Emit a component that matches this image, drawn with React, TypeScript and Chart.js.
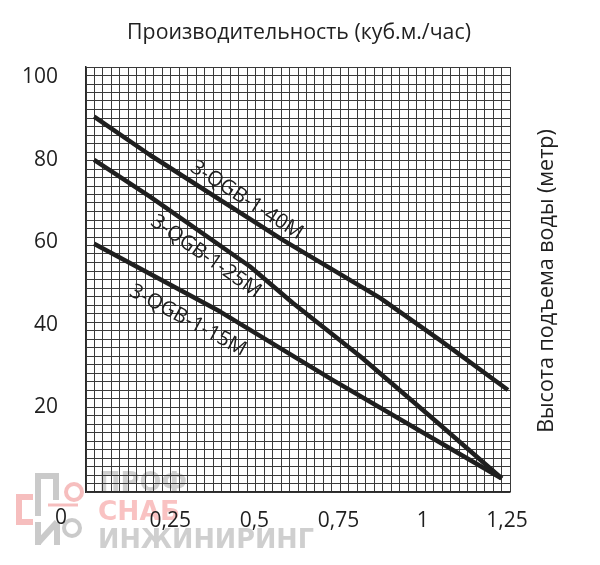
import { useEffect, useRef } from 'react';
import { Chart, registerables } from 'chart.js';

Chart.register(...registerables);

// ---- data ----
const xTicks = [0.25, 0.5, 0.75, 1, 1.25];
const yTicks = [20, 40, 60, 80, 100];
const seriesNames = ['3-QGB-1-40M', '3-QGB-1-25M', '3-QGB-1-15M'];
const flow40 = [0.024, 0.19, 0.585, 0.873, 1.051, 1.253];
const head40 = [90.4, 81.1, 60.5, 46.5, 36.3, 24.2];
const flow25 = [0.024, 0.19, 0.487, 0.615, 0.814, 1.021, 1.235];
const head25 = [79.9, 71.0, 54.1, 45.2, 32.4, 17.9, 2.8];
const flow15 = [0.024, 0.398, 0.733, 1.232];
const head15 = [59.6, 43.2, 26.6, 2.9];
const labelAnchorFlow = [0.455, 0.385, 0.335];

const titleText = 'Производительность (куб.м./час)';
const yTitleText = 'Высота подъема воды (метр)';

// ---- style ----
const FONT = '"Open Sans", "DejaVu Sans", sans-serif';
const INK = '#1f1f1f';
const labelOffsets = [-14, 17, 23];
const gridIdx = Array.from({ length: 51 }, (_, i) => i);

const toPts = (xs: number[], ys: number[]) => xs.map((x, i) => ({ x, y: ys[i] }));

const overlayPlugin = {
  id: 'overlay',
  beforeDraw(chart: any) {
    const ctx = chart.ctx as CanvasRenderingContext2D;
    ctx.save();
    // watermark logo (faint)
    ctx.lineCap = 'butt';
    ctx.lineJoin = 'miter';
    ctx.strokeStyle = 'rgba(150,150,150,0.5)';
    ctx.lineWidth = 6;
    ctx.beginPath();
    ctx.moveTo(38, 516);
    ctx.lineTo(38, 476);
    ctx.lineTo(56, 476);
    ctx.lineTo(56, 500);
    ctx.stroke();
    ctx.beginPath();
    ctx.moveTo(38, 522);
    ctx.lineTo(38, 545);
    ctx.moveTo(38, 543);
    ctx.lineTo(57, 522);
    ctx.moveTo(57, 522);
    ctx.lineTo(57, 545);
    ctx.stroke();
    ctx.beginPath();
    ctx.arc(72, 528, 8, 0, Math.PI * 2);
    ctx.lineWidth = 4;
    ctx.stroke();
    ctx.strokeStyle = 'rgba(235,110,110,0.45)';
    ctx.lineWidth = 6;
    ctx.beginPath();
    ctx.moveTo(33, 497);
    ctx.lineTo(19, 497);
    ctx.lineTo(19, 522);
    ctx.lineTo(33, 522);
    ctx.stroke();
    ctx.lineWidth = 3;
    ctx.beginPath();
    ctx.moveTo(48, 505);
    ctx.lineTo(78, 505);
    ctx.stroke();
    ctx.beginPath();
    ctx.arc(74, 492, 8, 0, Math.PI * 2);
    ctx.lineWidth = 4;
    ctx.stroke();
    ctx.textAlign = 'left';
    ctx.textBaseline = 'alphabetic';
    ctx.font = 'bold 27px "DejaVu Sans", sans-serif';
    ctx.fillStyle = 'rgba(130,130,130,0.38)';
    ctx.fillText('ПРОФ', 99, 491, 88);
    ctx.fillStyle = 'rgba(240,110,110,0.42)';
    ctx.fillText('СНАБ', 98, 520, 82);
    ctx.fillStyle = 'rgba(130,130,130,0.38)';
    ctx.fillText('ИНЖИНИРИНГ', 98, 548, 216);
    ctx.restore();
  },
  afterDatasetsDraw(chart: any) {
    const ctx = chart.ctx as CanvasRenderingContext2D;
    const xs = chart.scales.x;
    const area = chart.chartArea;
    ctx.save();
    ctx.fillStyle = INK;
    ctx.font = `20.5px ${FONT}`;
    ctx.textAlign = 'center';
    ctx.textBaseline = 'middle';
    seriesNames.forEach((name, i) => {
      const pts = chart.getDatasetMeta(i).data as any[];
      const px = xs.getPixelForValue(labelAnchorFlow[i]);
      let k = 0;
      while (k < pts.length - 2 && pts[k + 1].x < px) k++;
      const a = pts[k];
      const b = pts[k + 1];
      const t = (px - a.x) / (b.x - a.x);
      const py = a.y + t * (b.y - a.y);
      const ang = Math.atan2(b.y - a.y, b.x - a.x);
      ctx.save();
      ctx.translate(px, py);
      ctx.rotate(ang);
      ctx.fillText(name, 0, labelOffsets[i]);
      ctx.restore();
    });
    // title
    ctx.font = `21.3px ${FONT}`;
    ctx.fillText(titleText, (area.left + area.right) / 2 + 1, 33);
    // corner zero label
    ctx.font = `21px ${FONT}`;
    ctx.fillText('0', 61, 518);
    // right axis title
    ctx.font = `21.5px ${FONT}`;
    ctx.translate(547, 281);
    ctx.rotate(-Math.PI / 2);
    ctx.fillText(yTitleText, 0, 0);
    ctx.restore();
  },
};

export default function App() {
  const ref = useRef<HTMLCanvasElement>(null);
  useEffect(() => {
    if (!ref.current) return;
    const tickFont = { family: FONT, size: 21 };
    const line = (name: string, xs: number[], ys: number[]) => ({
      label: name,
      data: toPts(xs, ys),
      borderColor: INK,
      borderWidth: 4.5,
      pointRadius: 0,
      fill: false,
      tension: 0,
      borderCapStyle: 'butt',
      borderJoinStyle: 'round',
      xAxisID: 'x',
      yAxisID: 'y',
    });
    const chart = new Chart(ref.current, {
      type: 'line',
      data: {
        datasets: [
          line(seriesNames[0], flow40, head40),
          line(seriesNames[1], flow25, head25),
          line(seriesNames[2], flow15, head15),
        ] as any,
      },
      options: {
        animation: false,
        responsive: false,
        maintainAspectRatio: false,
        layout: { padding: { left: 0, top: 67, right: 90, bottom: 0 } },
        plugins: {
          legend: { display: false },
          tooltip: { enabled: false },
          title: { display: false },
        },
        scales: {
          x: {
            type: 'linear',
            position: 'bottom',
            weight: 1,
            min: 0,
            max: 1.259,
            afterBuildTicks: (a: any) => {
              a.ticks = xTicks.map((v) => ({ value: v }));
            },
            afterFit: (a: any) => {
              a.height = 73;
            },
            grid: { display: false },
            border: { display: false },
            ticks: {
              font: tickFont,
              color: INK,
              padding: 8,
              autoSkip: false,
              maxRotation: 0,
              callback: (v: any) => String(v).replace('.', ','),
            },
          },
          y: {
            type: 'linear',
            position: 'left',
            weight: 1,
            min: -0.48,
            max: 102.4,
            afterBuildTicks: (a: any) => {
              a.ticks = yTicks.map((v) => ({ value: v }));
            },
            afterFit: (a: any) => {
              a.width = 86;
            },
            grid: { display: false },
            border: { display: false },
            ticks: { font: tickFont, color: INK, padding: 20, autoSkip: false },
          },
          gx: {
            type: 'linear',
            position: 'bottom',
            weight: 0,
            min: 0,
            max: 50,
            afterBuildTicks: (a: any) => {
              a.ticks = gridIdx.map((v) => ({ value: v }));
            },
            afterFit: (a: any) => {
              a.height = 0;
            },
            ticks: { display: false },
            grid: { color: '#3a3a3a', lineWidth: 1, drawTicks: false },
            border: { display: true, color: '#2a2a2a', width: 1.5 },
          },
          gy: {
            type: 'linear',
            position: 'left',
            weight: 0,
            min: 0,
            max: 50,
            afterBuildTicks: (a: any) => {
              a.ticks = gridIdx.map((v) => ({ value: v }));
            },
            afterFit: (a: any) => {
              a.width = 0;
            },
            ticks: { display: false },
            grid: { color: '#3a3a3a', lineWidth: 1, drawTicks: false },
            border: { display: true, color: '#2a2a2a', width: 1.5 },
          },
        },
      } as any,
      plugins: [overlayPlugin],
    });
    return () => chart.destroy();
  }, []);
  return (
    <div style={{ position: 'fixed', left: 0, top: 0, width: 600, height: 565, background: '#fff' }}>
      <canvas ref={ref} width={600} height={565} style={{ display: 'block' }} />
    </div>
  );
}
